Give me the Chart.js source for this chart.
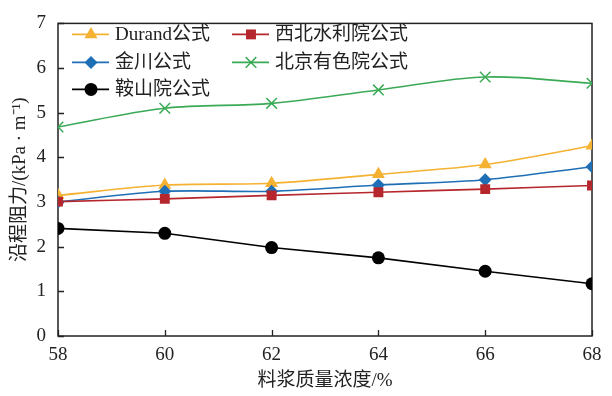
<!DOCTYPE html>
<html>
<head>
<meta charset="utf-8">
<script src="https://cdn.jsdelivr.net/npm/chart.js@4.4.0/dist/chart.umd.min.js"></script>
<style>
  html, body { margin: 0; padding: 0; background: #fff; }
  #wrap { width: 612px; height: 396px; }
</style>
</head>
<body>
<div id="wrap"><canvas id="c" width="612" height="396"></canvas></div>
<script>
// ---- data ----
const concentration = [58, 60, 62, 64, 66, 68];
const durand   = [3.15, 3.38, 3.42, 3.62, 3.84, 4.26];
const xibei    = [3.01, 3.07, 3.15, 3.22, 3.29, 3.37];
const jinchuan = [3.00, 3.24, 3.24, 3.38, 3.50, 3.79];
const beijing  = [4.68, 5.10, 5.21, 5.51, 5.80, 5.66];
const anshan   = [2.41, 2.30, 1.98, 1.75, 1.45, 1.17];

const xTicks = [58, 60, 62, 64, 66, 68];
const yTicks = [0, 1, 2, 3, 4, 5, 6, 7];

const FONT = "'Liberation Serif', 'Noto Sans CJK SC', serif";

function pts(vals) {
    return concentration.map((x, i) => ({ x: x, y: vals[i] }));
}

function series(label, vals, color, style, radius, order, tension, slot) {
    return {
        label: label,
        data: pts(vals),
        borderColor: color,
        backgroundColor: color,
        pointBackgroundColor: color,
        pointBorderColor: color,
        pointStyle: style,
        pointRadius: radius,
        pointBorderWidth: style === "crossRot" ? 1.5 : 0,
        borderWidth: 1.6,
        tension: tension,
        order: order,
        slot: slot
    };
}

const datasets = [
    series("Durand公式", durand, "#F5B131", "triangle", 7.5, 3, 0.3, [0, 0]),
    series("西北水利院公式", xibei, "#B5262D", "rect", 7, 1, 0.3, [1, 0]),
    series("金川公式", jinchuan, "#1F6FB6", "rectRot", 6.5, 2, 0.3, [0, 1]),
    series("北京有色院公式", beijing, "#3BAA57", "crossRot", 7.5, 4, 0.35, [1, 1]),
    series("鞍山院公式", anshan, "#000000", "circle", 6.5, 5, 0, [0, 2])
];

// ================= FRAME + INWARD TICKS =================

const framePlugin = {
    id: "frame",
    beforeDatasetsDraw(chart) {
        const { ctx, chartArea: a, scales } = chart;
        ctx.save();
        ctx.strokeStyle = "#222";
        ctx.lineWidth = 1.5;
        ctx.strokeRect(a.left, a.top, a.right - a.left, a.bottom - a.top);
        ctx.lineWidth = 1.3;
        ctx.beginPath();
        yTicks.forEach(v => {
            const y = Math.round(scales.y.getPixelForValue(v)) + 0.5;
            ctx.moveTo(a.left, y);
            ctx.lineTo(a.left + 6, y);
        });
        xTicks.forEach(v => {
            const x = Math.round(scales.x.getPixelForValue(v)) + 0.5;
            ctx.moveTo(x, a.bottom);
            ctx.lineTo(x, a.bottom - 6);
        });
        ctx.stroke();
        ctx.restore();
    }
};

// ================= LEGEND (line + marker, 2 columns) =================

const legendPlugin = {
    id: "lineLegend",
    afterDraw(chart) {
        const { ctx, chartArea: a } = chart;
        const colX = [a.left + 14, a.left + 174];
        const rowY = [a.top + 11, a.top + 39, a.top + 66];
        ctx.save();
        chart.data.datasets.forEach(ds => {
            const x0 = colX[ds.slot[0]];
            const y = rowY[ds.slot[1]];
            ctx.strokeStyle = ds.borderColor;
            ctx.lineWidth = 1.6;
            ctx.beginPath();
            ctx.moveTo(x0, y);
            ctx.lineTo(x0 + 37, y);
            ctx.stroke();
            ctx.fillStyle = ds.borderColor;
            ctx.lineWidth = ds.pointBorderWidth || 1;
            Chart.helpers.drawPoint(ctx, {
                pointStyle: ds.pointStyle,
                radius: ds.pointRadius,
                rotation: 0,
                borderWidth: ds.pointBorderWidth
            }, x0 + 19, y);
            ctx.fillStyle = "#222";
            ctx.font = "19px " + FONT;
            ctx.textBaseline = "middle";
            ctx.textAlign = "left";
            ctx.fillText(ds.label, x0 + 43, y + 1);
        });
        ctx.restore();
    }
};

new Chart(document.getElementById("c"), {
    type: "line",
    data: { datasets: datasets },
    options: {
        responsive: false,
        animation: false,
        devicePixelRatio: 1,
        layout: { padding: { top: 20, right: 20, left: 0, bottom: 0 } },
        plugins: { legend: { display: false }, tooltip: { enabled: false } },
        scales: {
            x: {
                type: "linear",
                min: 58,
                max: 68,
                afterBuildTicks: s => { s.ticks = xTicks.map(v => ({ value: v })); },
                afterFit: s => { s.height = 60; },
                grid: { display: false, drawTicks: false },
                border: { display: false },
                ticks: { color: "#222", padding: 8, font: { family: FONT, size: 19 } },
                title: {
                    display: true,
                    text: "料浆质量浓度/%",
                    color: "#222",
                    padding: { top: 2 },
                    font: { family: FONT, size: 19 }
                }
            },
            y: {
                min: 0,
                max: 7,
                afterBuildTicks: s => { s.ticks = yTicks.map(v => ({ value: v })); },
                afterFit: s => { s.width = 58; },
                grid: { display: false, drawTicks: false },
                border: { display: false },
                ticks: { color: "#222", padding: 12, font: { family: FONT, size: 19 } },
                title: {
                    display: true,
                    text: "沿程阻力/(kPa · m⁻¹)",
                    color: "#222",
                    padding: { top: 9, bottom: 0 },
                    font: { family: FONT, size: 19 }
                }
            }
        }
    },
    plugins: [framePlugin, legendPlugin]
});
</script>
</body>
</html>
